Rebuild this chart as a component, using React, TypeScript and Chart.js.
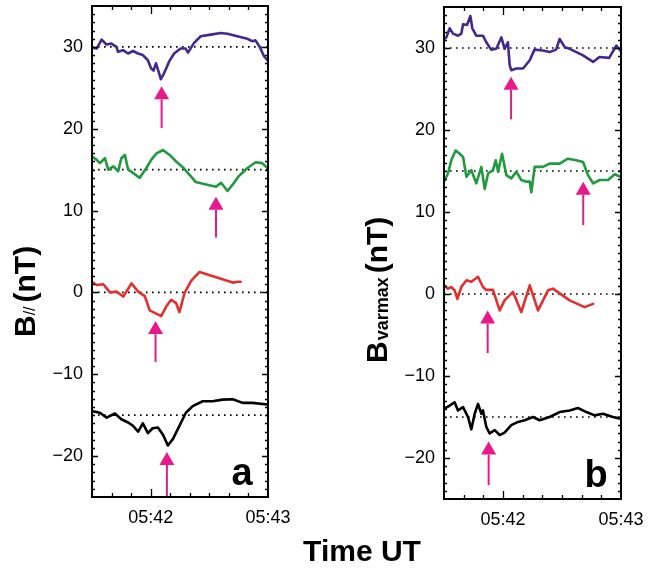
import React, { useEffect, useRef } from "react";
import { Chart, registerables } from "chart.js";

Chart.register(...registerables);

// ---- axis definitions (seconds after 05:41:30) ----
const X_MIN = 0;
const X_MAX = 90;
const X_TICK_VALUES = [30, 90];
const X_TICK_LABELS = ["05:42", "05:43"];
const X_MINOR_STEP = 10;
const Y_MIN = -25;
const Y_MAX = 35;
const Y_TICK_VALUES = [-20, -10, 0, 10, 20, 30];
const Y_MINOR_STEP = 1;
const REF_LEVELS = [30, 15, 0, -15];

// ---- panel a : B// ----
const aPurpleT = [0, 2.4, 4.9, 7.4, 9.9, 12.5, 13.3, 15.9, 18.4, 21, 23.5, 26, 28.5, 30.2, 31.5, 32.7, 33.9, 35.2, 36.9, 39.4, 42, 45.3, 47.9, 49.1, 52.2, 55.6, 60.7, 65.8, 69.2, 74.3, 79.4, 81.9, 83.6, 85.8, 87.9, 89.6];
const aPurpleV = [29.9, 29.8, 30.9, 30.3, 30.4, 30.0, 29.4, 29.6, 29.2, 29.5, 29.2, 29.0, 28.4, 27.4, 27.1, 28.0, 27.1, 26.05, 26.8, 28.2, 29.2, 29.8, 29.8, 29.3, 30.5, 31.3, 31.5, 31.7, 31.6, 31.3, 31.0, 30.7, 30.8, 30.0, 28.9, 28.4];
const aGreenT = [0, 2.4, 4, 6.6, 8.3, 11, 13.4, 15, 16.8, 18.5, 21, 24.4, 27.8, 30.3, 33, 36.3, 39.7, 43, 46.4, 49.8, 53, 58.3, 63.4, 66, 69.3, 72, 75, 79.5, 83.7, 87, 89.7];
const aGreenV = [16.6, 16.2, 15.8, 16.4, 15.0, 15.4, 14.8, 16.4, 16.8, 15.0, 14.6, 14.0, 15.2, 16.2, 17.0, 17.4, 16.8, 16.0, 15.3, 14.4, 13.5, 13.2, 12.9, 13.4, 12.4, 13.2, 14.2, 15.2, 15.9, 15.8, 15.2];
const aRedT = [0, 2.4, 5.8, 9.2, 12.5, 16, 20.2, 23.6, 27, 29.5, 35.4, 38, 40.5, 43, 44.7, 47.3, 50.7, 55, 72, 74.4, 76];
const aRedV = [1.3, 0.9, 1.0, 0, 0.1, -0.5, 1.1, 0.1, -0.45, -2.2, -2.9, -1.7, -0.9, -1.3, -2.4, -0.1, 1.4, 2.5, 1.2, 1.3, 1.3];
const aBlackT = [0, 4, 7.5, 11.7, 15, 18.5, 21, 23.6, 26, 28.6, 31, 33.7, 36.3, 38.8, 41.4, 44.7, 48, 51.5, 56.6, 61.7, 66.8, 72, 77, 82, 89.7];
const aBlackV = [-14.5, -14.7, -15.3, -14.8, -15.5, -15.9, -16.3, -17.0, -16.0, -17.2, -16.6, -16.5, -17.4, -18.7, -17.9, -16.3, -14.7, -13.9, -13.3, -13.3, -13.1, -13.05, -13.5, -13.5, -13.7];
// arrows: [time, tip value, tail value]
const aArrows = [
  [35.6, 25.2, 20.1],
  [63.4, 11.7, 6.7],
  [32.5, -3.5, -8.5],
  [38.3, -19.5, -24.9],
];

// ---- panel b : Bvarmax ----
const bPurpleT = [0, 1.2, 2.9, 4.6, 7.1, 8.8, 9.7, 11.7, 13.4, 14.4, 16.4, 19.8, 21.5, 24, 26.6, 29.2, 30.8, 32.5, 33.4, 34.2, 36.8, 40.2, 43.6, 46, 50.3, 53.7, 57, 58.8, 61.4, 63.9, 67.3, 70.7, 75.8, 79, 84, 87.6, 89.7];
const bPurpleV = [31.1, 31.3, 32.4, 31.75, 31.5, 31.75, 32.9, 32.8, 33.9, 32.4, 31.5, 31.5, 30.7, 29.8, 29.9, 31.3, 29.9, 30.7, 27.9, 27.3, 27.5, 27.5, 28.5, 29.8, 29.7, 29.5, 29.8, 31.1, 30.1, 29.9, 29.5, 29.1, 28.3, 28.9, 28.8, 30.3, 29.7];
const bGreenT = [0, 2, 3.7, 5.9, 8, 9.7, 11.4, 13.9, 16.4, 19, 20.7, 22.4, 24.9, 26.3, 27.5, 29.5, 31.7, 34.2, 36.8, 39.3, 41.9, 43.6, 44.4, 46.1, 50.3, 53.7, 58.8, 63, 67.3, 70.7, 73.2, 75.8, 79.2, 83.4, 86.8, 89.7];
const bGreenV = [13.7, 14.7, 16.3, 17.5, 17.1, 16.7, 14.3, 15.1, 13.5, 15.5, 12.8, 14.7, 15.1, 16.3, 14.9, 17.1, 14.5, 14.1, 14.9, 13.9, 13.7, 13.7, 12.4, 15.5, 15.5, 15.9, 15.9, 16.5, 16.3, 16.1, 14.5, 13.5, 13.9, 13.9, 14.6, 14.3];
const bRedT = [0, 2, 3.7, 5.4, 6.8, 8.8, 11.4, 13.9, 17.3, 19.8, 21.5, 24.9, 28.3, 30.8, 35.1, 39.3, 43.6, 47.8, 52.9, 55.4, 63.9, 71.5, 75.8];
const bRedV = [1.06, 0.65, 0.85, 0.45, -0.6, 0.85, 1.67, 1.5, 2.1, 0.85, 0.5, 0.5, -2.0, -0.77, 0.25, -2.2, 1.06, -2.0, 0.45, 0.65, -0.77, -1.6, -1.2];
const bBlackT = [0, 2.9, 5.4, 7.1, 9.7, 12.2, 13.9, 15.6, 17.3, 19, 19.8, 21.5, 23.2, 25.8, 28.3, 30.8, 34.2, 37.6, 41, 45.3, 48.6, 53.7, 58.8, 63.9, 68.1, 72.4, 76.6, 80.8, 85.9, 89.7];
const bBlackV = [-14.0, -13.6, -13.2, -14.2, -13.8, -15.0, -16.5, -14.6, -13.4, -14.6, -14.2, -16.2, -17.0, -16.6, -17.2, -16.9, -16.0, -15.6, -15.4, -15.0, -15.4, -15.0, -14.4, -14.2, -13.9, -14.4, -14.8, -14.6, -15.0, -15.2];
const bArrows = [
  [34.1, 26.5, 21.3],
  [70.8, 13.7, 8.4],
  [22.2, -2.0, -7.2],
  [22.7, -18.0, -23.3],
];

const COLORS = { purple: "#43298e", green: "#1f9a3e", red: "#e2302f", black: "#000000", arrow: "#e8198b" };
const FONT = "'Liberation Sans', Arial, Helvetica, sans-serif";

const zip = (t: number[], v: number[]) => t.map((x, i) => ({ x, y: v[i] }));

const framePlugin = {
  id: "frame",
  afterDraw(chart: any) {
    const { ctx, chartArea } = chart;
    const { left, right, top, bottom } = chartArea;
    const xs = chart.scales.x;
    const ys = chart.scales.y;
    ctx.save();
    ctx.strokeStyle = "#000";
    ctx.lineWidth = 1.3;
    ctx.beginPath();
    for (let s = X_MIN + X_MINOR_STEP; s < X_MAX; s += X_MINOR_STEP) {
      const px = Math.round(xs.getPixelForValue(s)) + 0.5;
      const len = X_TICK_VALUES.includes(s) ? 8 : 4;
      ctx.moveTo(px, bottom);
      ctx.lineTo(px, bottom - len);
      ctx.moveTo(px, top);
      ctx.lineTo(px, top + len);
    }
    for (let v = Y_MIN + Y_MINOR_STEP; v < Y_MAX; v += Y_MINOR_STEP) {
      const py = Math.round(ys.getPixelForValue(v)) + 0.5;
      const len = v % 10 === 0 ? 6 : 3;
      ctx.moveTo(left, py);
      ctx.lineTo(left + len, py);
      ctx.moveTo(right, py);
      ctx.lineTo(right - len, py);
    }
    ctx.stroke();
    ctx.lineWidth = 2;
    ctx.strokeRect(left, top, right - left, bottom - top);
    ctx.restore();
  },
};

const arrowPlugin = {
  id: "arrows",
  afterDatasetsDraw(chart: any, _args: any, opts: any) {
    const { ctx } = chart;
    const xs = chart.scales.x;
    const ys = chart.scales.y;
    ctx.save();
    ctx.fillStyle = COLORS.arrow;
    ctx.strokeStyle = COLORS.arrow;
    ctx.lineWidth = 2;
    for (const [t, tip, tail] of opts.arrows || []) {
      const px = xs.getPixelForValue(t);
      const ty = ys.getPixelForValue(tip);
      const by = ys.getPixelForValue(tail);
      const head = 13;
      ctx.beginPath();
      ctx.moveTo(px, by);
      ctx.lineTo(px, ty + head);
      ctx.stroke();
      ctx.beginPath();
      ctx.moveTo(px, ty);
      ctx.lineTo(px - 7.5, ty + head);
      ctx.lineTo(px + 7.5, ty + head);
      ctx.closePath();
      ctx.fill();
    }
    ctx.restore();
  },
};

const labelPlugin = {
  id: "panelLabel",
  afterDraw(chart: any, _args: any, opts: any) {
    const { ctx, chartArea } = chart;
    ctx.save();
    ctx.fillStyle = "#000";
    ctx.font = `bold 38px ${FONT}`;
    ctx.textAlign = "center";
    ctx.textBaseline = "alphabetic";
    ctx.fillText(opts.text, chartArea.right - opts.dx, chartArea.bottom - 12);
    ctx.restore();
  },
};

const yTitlePlugin = {
  id: "yTitle",
  afterDraw(chart: any, _args: any, opts: any) {
    const { ctx } = chart;
    ctx.save();
    ctx.translate(opts.x, opts.y);
    ctx.rotate(-Math.PI / 2);
    ctx.fillStyle = "#000";
    ctx.textBaseline = "alphabetic";
    ctx.textAlign = "left";
    let pos = 0;
    for (const p of opts.parts) {
      ctx.font = p.font;
      ctx.fillText(p.text, pos, p.dy || 0);
      pos += ctx.measureText(p.text).width + (p.gap || 0);
    }
    ctx.restore();
  },
};

const zeroPad = (sc: any) => {
  sc.paddingLeft = 0;
  sc.paddingRight = 0;
  sc.paddingTop = 0;
  sc.paddingBottom = 0;
};

function makeConfig(series: any[], arrows: number[][], label: string, labelDx: number, title: any, padding: any, yWidth: number) {
  const datasets: any[] = [];
  REF_LEVELS.forEach((lvl) => {
    datasets.push({
      data: [{ x: X_MIN, y: lvl }, { x: X_MAX, y: lvl }],
      borderColor: "#000",
      borderWidth: 1.6,
      borderDash: [1.6, 4.4],
      pointRadius: 0,
      order: 2,
    });
  });
  series.forEach((s) => {
    datasets.push({
      data: zip(s.t, s.v),
      borderColor: s.color,
      borderWidth: 2.6,
      pointRadius: 0,
      tension: 0,
      borderJoinStyle: "round",
      borderCapStyle: "round",
      order: 1,
    });
  });
  return {
    type: "line",
    data: { datasets },
    options: {
      animation: false,
      responsive: false,
      devicePixelRatio: 1,
      layout: { padding },
      plugins: {
        legend: { display: false },
        tooltip: { enabled: false },
        arrows: { arrows },
        panelLabel: { text: label, dx: labelDx },
        yTitle: title,
      },
      scales: {
        x: {
          type: "linear",
          min: X_MIN,
          max: X_MAX,
          grid: { display: false, drawTicks: false },
          border: { display: false },
          afterBuildTicks: (sc: any) => {
            sc.ticks = X_TICK_VALUES.map((value) => ({ value }));
          },
          afterFit: (sc: any) => {
            sc.height = 40;
            zeroPad(sc);
          },
          ticks: {
            autoSkip: false,
            maxRotation: 0,
            padding: 10,
            color: "#000",
            font: { family: FONT, size: 18 },
            callback: (v: number) => X_TICK_LABELS[X_TICK_VALUES.indexOf(v)] ?? "",
          },
        },
        y: {
          type: "linear",
          min: Y_MIN,
          max: Y_MAX,
          grid: { display: false, drawTicks: false },
          border: { display: false },
          afterBuildTicks: (sc: any) => {
            sc.ticks = Y_TICK_VALUES.map((value) => ({ value }));
          },
          afterFit: (sc: any) => {
            sc.width = yWidth;
            zeroPad(sc);
          },
          ticks: {
            padding: 9,
            color: "#000",
            font: { family: FONT, size: 18 },
            callback: (v: number) => (v < 0 ? "\u2212" + Math.abs(v) : String(v)),
          },
        },
      },
    },
    plugins: [framePlugin, arrowPlugin, labelPlugin, yTitlePlugin],
  };
}

export default function App() {
  const refA = useRef<HTMLCanvasElement | null>(null);
  const refB = useRef<HTMLCanvasElement | null>(null);

  useEffect(() => {
    const seriesA = [
      { t: aPurpleT, v: aPurpleV, color: COLORS.purple },
      { t: aGreenT, v: aGreenV, color: COLORS.green },
      { t: aRedT, v: aRedV, color: COLORS.red },
      { t: aBlackT, v: aBlackV, color: COLORS.black },
    ];
    const seriesB = [
      { t: bPurpleT, v: bPurpleV, color: COLORS.purple },
      { t: bGreenT, v: bGreenV, color: COLORS.green },
      { t: bRedT, v: bRedV, color: COLORS.red },
      { t: bBlackT, v: bBlackV, color: COLORS.black },
    ];
    const titleA = {
      x: 35,
      y: 337,
      parts: [
        { text: "B", font: `bold 30px ${FONT}` },
        { text: "//", font: `16px ${FONT}`, gap: 4 },
        { text: "(nT)", font: `bold 30px ${FONT}` },
      ],
    };
    const titleB = {
      x: 57,
      y: 363,
      parts: [
        { text: "B", font: `bold 30px ${FONT}`, gap: 1 },
        { text: "varmax", font: `bold 18px ${FONT}`, dy: 1, gap: 4 },
        { text: "(nT)", font: `bold 30px ${FONT}` },
      ],
    };
    const chartA = new Chart(refA.current as any, makeConfig(seriesA, aArrows, "a", 26, titleA, { left: 0, top: 6, right: 62, bottom: 33 }, 92) as any);
    const chartB = new Chart(refB.current as any, makeConfig(seriesB, bArrows, "b", 25, titleB, { left: 0, top: 7, right: 27, bottom: 31 }, 114) as any);
    return () => {
      chartA.destroy();
      chartB.destroy();
    };
  }, []);

  return (
    <div style={{ position: "fixed", left: 0, top: 0, width: 648, height: 570, background: "#fff" }}>
      <canvas ref={refA} width={330} height={570} style={{ position: "absolute", left: 0, top: 0 }} />
      <canvas ref={refB} width={318} height={570} style={{ position: "absolute", left: 330, top: 0 }} />
      <div
        style={{
          position: "absolute",
          left: 232,
          top: 536,
          width: 260,
          textAlign: "center",
          font: `bold 30px ${FONT}`,
          lineHeight: "30px",
          color: "#000",
        }}
      >
        Time UT
      </div>
    </div>
  );
}
